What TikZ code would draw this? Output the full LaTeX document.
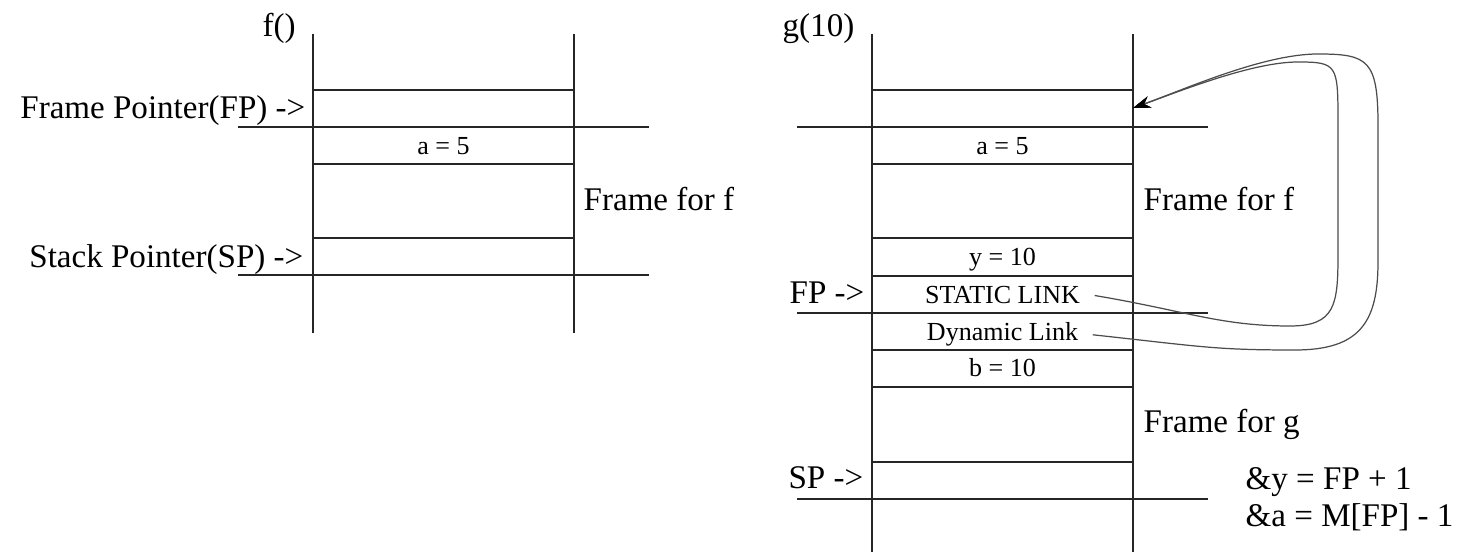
\documentclass[tikz,border=0pt]{standalone}
\usepackage{fontspec}
\setmainfont{Liberation Serif}
\usepackage{tikz}
\usetikzlibrary{arrows.meta}
\newcommand{\bigtxt}{\fontsize{9.4}{11}\selectfont}
\newcommand{\smltxt}{\fontsize{7.4}{9}\selectfont}
\tikzset{
  lbl/.style={inner sep=0pt, font=\bigtxt},
  cell/.style={inner sep=0pt, anchor=base, font=\smltxt},
  link/.style={cell, inner xsep=0.14cm},
  stack/.style={line width=0.5pt, black!85},
  linkline/.style={line width=0.35pt, black!70}
}
\begin{document}
\begin{tikzpicture}[x=0.01cm, y=-0.01cm]
  \useasboundingbox (0,0) rectangle (1457,552);
  % stack of f()
  \draw[stack] (313,34) -- (313,333) (574,34) -- (574,333);
  \foreach \y in {90,164,238} \draw[stack] (313,\y) -- (574,\y);
  \foreach \y in {127,275} \draw[stack] (238,\y) -- (649,\y);
  \node[lbl, anchor=base west] (fname) at (262,37) {f()};
  \node[lbl, anchor=base east] (fp1) at (306,119) {Frame Pointer(FP) ->};
  \node[lbl, anchor=base east] (sp1) at (304,268) {Stack Pointer(SP) ->};
  \node[cell] (a1) at (443.5,155) {a = 5};
  \node[lbl, anchor=base west] (ff1) at (583,211) {Frame for f};
  % stack of g(10)
  \draw[stack] (872,34) -- (872,552) (1133,34) -- (1133,552);
  \foreach \y in {90,164,238,276,350,387,462} \draw[stack] (872,\y) -- (1133,\y);
  \foreach \y in {127,313,499} \draw[stack] (797,\y) -- (1208,\y);
  \node[lbl, anchor=base west] (gname) at (782,37) {g(10)};
  \node[cell] (a2) at (1002.5,155) {a = 5};
  \node[lbl, anchor=base west] (ff2) at (1143,211) {Frame for f};
  \node[cell] (y2) at (1002.5,266) {y = 10};
  \node[lbl, anchor=base east] (fp2) at (865,304) {FP ->};
  \node[link] (sl) at (1002.5,304) {STATIC LINK};
  \node[link] (dl) at (1002.5,341) {Dynamic Link};
  \node[cell] (b2) at (1002.5,377) {b = 10};
  \node[lbl, anchor=base west] (fg) at (1143,433) {Frame for g};
  \node[lbl, anchor=base east] (sp2) at (864,489) {SP ->};
  \node[lbl, anchor=base west] (addry) at (1245,490) {\&y = FP + 1};
  \node[lbl, anchor=base west] (addra) at (1245,527) {\&a = M[FP] - 1};
  \coordinate (fplink) at (1133,108);
  % links back to the frame of f
  \draw[linkline, -{Stealth[length=5pt,width=3.4pt,black]}] (sl.east) .. controls +(90,15) and +(-70,0) .. (1290,326)
    .. controls +(45,0) and +(0,50) .. (1338,255) -- (1338,125)
    .. controls +(0,-60) and +(40,0) .. (1298,62)
    .. controls +(-45,0) and +(50,-18) .. (fplink);
  \draw[linkline, -{Stealth[length=5pt,width=3.4pt,black]}] (dl.east) .. controls +(110,12) and +(-80,0) .. (1295,350)
    .. controls +(65,0) and +(0,60) .. (1378,262) -- (1378,125)
    .. controls +(0,-65) and +(50,0) .. (1318,54)
    .. controls +(-55,0) and +(50,-18) .. (fplink);
\end{tikzpicture}
\end{document}
